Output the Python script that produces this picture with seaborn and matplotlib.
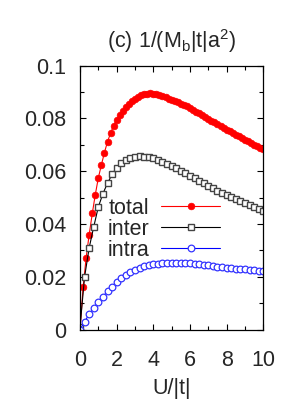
import numpy as np
import pandas as pd
import matplotlib
matplotlib.use("Agg")
import matplotlib.pyplot as plt
import seaborn as sns
from matplotlib.ticker import MultipleLocator

# total 1/(M_b|t|a^2)
u_total = [0.0, 0.17, 0.33, 0.5, 0.67, 0.83, 1.0, 1.17, 1.33, 1.5,
           1.67, 1.83, 2.0, 2.17, 2.33, 2.5, 2.67, 2.83, 3.0, 3.17,
           3.33, 3.5, 3.67, 3.83, 4.0, 4.17, 4.33, 4.5, 4.67, 4.83,
           5.0, 5.17, 5.33, 5.5, 5.67, 5.83, 6.0, 6.17, 6.33, 6.5,
           6.67, 6.83, 7.0, 7.17, 7.33, 7.5, 7.67, 7.83, 8.0, 8.17,
           8.33, 8.5, 8.67, 8.83, 9.0, 9.17, 9.33, 9.5, 9.67, 9.83, 10.0]
total = [0.0, 0.016, 0.027, 0.036, 0.044, 0.051, 0.0575, 0.0625, 0.067, 0.0712,
         0.0745, 0.0772, 0.0795, 0.0813, 0.0828, 0.0842, 0.0855, 0.0866, 0.0875, 0.0883,
         0.0888, 0.0892, 0.0894, 0.0895, 0.0894, 0.0892, 0.0889, 0.0885, 0.0880, 0.0875,
         0.0870, 0.0866, 0.0861, 0.0856, 0.0851, 0.0846, 0.0840, 0.0833, 0.0826, 0.0819,
         0.0812, 0.0805, 0.0798, 0.0791, 0.0785, 0.0778, 0.0772, 0.0765, 0.0758, 0.0751,
         0.0745, 0.0738, 0.0732, 0.0725, 0.0719, 0.0713, 0.0707, 0.0701, 0.0695, 0.0689, 0.0683]

# inter and intra share one grid
u_parts = [0.0, 0.25, 0.5, 0.75, 1.0, 1.25, 1.5, 1.75, 2.0, 2.25,
           2.5, 2.75, 3.0, 3.25, 3.5, 3.75, 4.0, 4.25, 4.5, 4.75,
           5.0, 5.25, 5.5, 5.75, 6.0, 6.25, 6.5, 6.75, 7.0, 7.25,
           7.5, 7.75, 8.0, 8.25, 8.5, 8.75, 9.0, 9.25, 9.5, 9.75, 10.0]
inter = [0.001, 0.020, 0.031, 0.039, 0.0465, 0.0515, 0.0555, 0.0588, 0.0614, 0.0632,
         0.0644, 0.0652, 0.0655, 0.0656, 0.0655, 0.0653, 0.0649, 0.0643, 0.0636, 0.0628,
         0.0620, 0.0611, 0.0602, 0.0593, 0.0583, 0.0573, 0.0563, 0.0554, 0.0545, 0.0536,
         0.0527, 0.0519, 0.0511, 0.0503, 0.0495, 0.0487, 0.0479, 0.0472, 0.0465, 0.0458, 0.0451]
intra = [0.0, 0.003, 0.0058, 0.0082, 0.0104, 0.0125, 0.0145, 0.0163, 0.0180, 0.0194,
         0.0208, 0.0218, 0.0227, 0.0234, 0.0240, 0.0245, 0.0248, 0.0250, 0.0252, 0.0253,
         0.0253, 0.0253, 0.0253, 0.0252, 0.0251, 0.0249, 0.0247, 0.0245, 0.0243, 0.0241,
         0.0239, 0.0237, 0.0235, 0.0233, 0.0231, 0.0229, 0.0228, 0.0226, 0.0225, 0.0223, 0.0222]

sns.set_style("ticks")
plt.rcParams['font.family'] = ['Liberation Sans', 'DejaVu Sans']
plt.rcParams['mathtext.fontset'] = 'custom'
plt.rcParams['mathtext.rm'] = 'Liberation Sans'
plt.rcParams['mathtext.it'] = 'Liberation Sans'

fs = 15.5
fig = plt.figure(figsize=(3, 4), dpi=100)
ax = fig.add_axes([0.2667, 0.176, 0.611, 0.6598])

df_total = pd.DataFrame({'U': u_total, 'v': total})
df_parts = pd.DataFrame({'U': u_parts, 'inter': inter, 'intra': intra})

sns.lineplot(data=df_total, x='U', y='v', ax=ax, color='#ff0000', lw=0.8,
             marker='o', markersize=4.8, markeredgewidth=0.5,
             markeredgecolor='#ff0000', label='total')
sns.lineplot(data=df_parts, x='U', y='inter', ax=ax, color='black', lw=0.8,
             marker='s', markersize=4.6, markerfacecolor='white',
             markeredgecolor='#444444', markeredgewidth=1.0, label='inter')
sns.lineplot(data=df_parts, x='U', y='intra', ax=ax, color='#0000ff', lw=0.8,
             marker='o', markersize=4.8, markerfacecolor='white',
             markeredgecolor='#3333ff', markeredgewidth=0.9, label='intra')

ax.set_xlim(0, 10)
ax.set_ylim(0, 0.1)
ax.xaxis.set_minor_locator(MultipleLocator(1))
ax.yaxis.set_minor_locator(MultipleLocator(0.01))
ax.set_xticks([0, 2, 4, 6, 8, 10])
ax.set_xticklabels(['0', '2', '4', '6', '8', '10'])
ax.set_yticks([0, 0.02, 0.04, 0.06, 0.08, 0.1])
ax.set_yticklabels(['0', '0.02', '0.04', '0.06', '0.08', '0.1'])

ax.tick_params(which='both', direction='in', top=True, right=True,
               labelsize=fs, width=0.8, color='black')
ax.tick_params(which='major', length=4.5)
ax.tick_params(which='minor', length=2.8)
ax.tick_params(axis='x', which='major', pad=15)
ax.tick_params(axis='y', which='major', pad=10)
for s in ax.spines.values():
    s.set_linewidth(0.9)
    s.set_color('black')

ax.set_xlabel('U/|t|', fontsize=fs, labelpad=5)
ax.set_ylabel('')
ax.set_title(r'(c) 1/(M$_\mathrm{b}$|t|a$^\mathrm{2}$)', fontsize=fs, pad=13)

leg = ax.legend(loc='upper left', bbox_to_anchor=(0.15, 0.50), frameon=False,
                fontsize=fs, markerfirst=False, numpoints=1, handlelength=2.75,
                handletextpad=0.55, labelspacing=0.0, borderaxespad=0,
                borderpad=0)

fig.savefig('out.png', dpi=100)
